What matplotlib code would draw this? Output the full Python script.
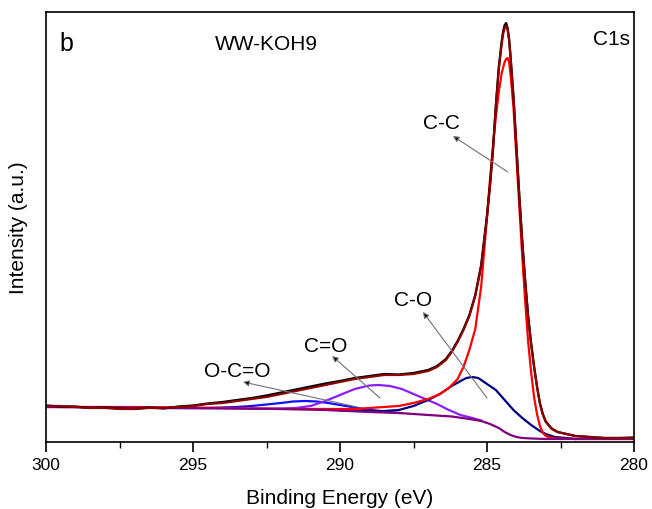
import numpy as np
import matplotlib
matplotlib.use('Agg')
import matplotlib.pyplot as plt
from matplotlib.ticker import MultipleLocator

plt.rcParams['font.family'] = ['Liberation Sans', 'DejaVu Sans']

# DATA (binding energy in eV, intensity in a.u.)
be_env = [300, 299.5, 299, 298.5, 298, 297.5, 297, 296.5, 296, 295.5, 295, 294.5, 294, 293.5, 293,
          292.5, 292, 291.5, 291, 290.5, 290, 289.5, 289, 288.5, 288, 287.5, 287,
          286.7, 286.4, 286.2, 286.0, 285.8, 285.6, 285.4, 285.2, 285.0,
          284.9, 284.8, 284.7, 284.6, 284.5, 284.45, 284.4, 284.35, 284.3, 284.25, 284.2, 284.1, 284.0,
          283.9, 283.8, 283.7, 283.6, 283.5, 283.4, 283.3, 283.2, 283.1, 283.0,
          282.8, 282.6, 282.3, 282.0, 281.5, 281, 280.5, 280]
int_env = [36, 36, 35, 34, 34, 33, 33, 34, 34, 35, 36, 38, 39, 41, 43,
           45, 48, 51, 54, 57, 60, 63, 65, 67, 67, 68, 71,
           75, 82, 90, 100, 112, 126, 146, 175, 225,
           255, 290, 335, 372, 398, 408, 414, 416, 412, 402, 385, 345, 295,
           245, 200, 160, 125, 98, 75, 55, 38, 27, 20,
           13, 10, 8, 6, 5, 4, 4, 4]
int_raw = [36.5, 35.5, 35.5, 34, 34.5, 33.5, 33, 34.5, 33.5, 35.5, 36.5, 38.5, 40, 42, 44,
           46.5, 49.5, 52.5, 55.5, 58.5, 61, 64, 66, 68, 67.5, 69, 72,
           76, 83, 91, 101, 113, 127, 147, 177, 227,
           257, 292, 337, 375, 401, 411, 417, 419, 414, 404, 386, 346, 296,
           246, 201, 161, 126, 99, 76, 56, 39, 28, 20.5,
           13.5, 10, 8, 6, 5, 4, 4, 4.5]

# C-C component
be_cc = [300, 297, 294, 292, 290.5, 289.5, 288.5, 288, 287.5, 287,
         286.6, 286.3, 286.0, 285.8, 285.6, 285.4, 285.2, 285.1, 285.0, 284.9,
         284.8, 284.7, 284.6, 284.5, 284.4, 284.35, 284.3, 284.25, 284.2, 284.1,
         284.0, 283.9, 283.8, 283.7, 283.6, 283.5, 283.4, 283.3, 283.2, 283.1,
         283.0, 282.8, 282.5, 282, 281, 280]
int_cc = [35, 35, 34, 33, 33, 33, 35, 36, 39, 43,
          48, 54, 63, 75, 92, 113, 155, 190, 225, 262,
          295, 325, 350, 369, 380, 383, 384, 380, 368, 335,
          285, 235, 185, 140, 100, 70, 45, 28, 16, 9,
          6, 4, 3.5, 3, 3, 3]

# C-O component
be_co = [290, 289, 288.5, 288, 287.5, 287, 286.6, 286.2, 285.9, 285.7, 285.5, 285.3,
         285.0, 284.7, 284.4, 284.1, 283.8, 283.5, 283.2, 283.0, 282.7, 282.3, 282]
int_co = [31.5, 31, 31, 32, 36, 42, 48, 56, 61, 64, 65, 64,
          58, 52, 42, 32, 24, 17, 11, 8, 5, 4, 3]

# C=O component
be_cdo = [293, 292, 291.5, 291, 290.5, 290, 289.5, 289, 288.7, 288.3, 287.9, 287.5,
          287.1, 286.7, 286.3, 285.9, 285.5, 285.2]
int_cdo = [33.3, 33.5, 34, 36, 41, 47, 53, 56.5, 57, 56, 53, 48,
           43, 38, 32, 27, 24, 21.5]

# O-C=O component
be_occo = [296, 295, 294.5, 294, 293.5, 293, 292.5, 292, 291.6, 291.2, 290.8, 290.4,
           290, 289.6, 289.2, 288.8, 288.4, 288]
int_occo = [34, 34, 34, 34.5, 35, 36, 37.5, 39, 40.5, 41, 40.5, 39,
            37, 35, 33, 31.5, 30, 29]

# background
be_bg = [300, 298, 296, 294, 292, 290.5, 289, 288, 287, 286.2, 285.6, 285.2, 284.9,
         284.6, 284.4, 284.2, 284.0, 283.8, 283.5, 283, 282, 281, 280]
int_bg = [35, 34.5, 34, 33.5, 33, 32, 30, 29, 27, 25.5, 23, 21, 18,
          14, 10, 7, 5, 4, 3.5, 3, 3, 3, 3]

peak_labels = ['C-C', 'C-O', 'C=O', 'O-C=O']
label_xy = [(286.55, 320), (287.5, 142), (290.48, 96), (293.50, 71)]
arrow_head = [(286.16, 306), (287.18, 130), (290.27, 86), (293.30, 60)]
arrow_tail = [(284.29, 270), (285.0, 44), (288.64, 44), (289.42, 35)]

# PLOT
fig = plt.figure(figsize=(6.52, 5.10), dpi=100)
ax = fig.add_axes([0.0706, 0.1314, 0.9018, 0.8431])
lw = 1.6
ax.plot(be_occo, int_occo, color='#1010FF', lw=lw)
ax.plot(be_cdo, int_cdo, color='#8B1EFF', lw=lw)
ax.plot(be_co, int_co, color='#000080', lw=lw)
ax.plot(be_cc, int_cc, color='#FF0000', lw=lw)
ax.plot(be_bg, int_bg, color='#800080', lw=lw)
ax.plot(be_env, int_raw, color='black', lw=lw)
ax.plot(be_env, int_env, color='#8B0000', lw=lw)

for lab, xy, hd, tl in zip(peak_labels, label_xy, arrow_head, arrow_tail):
    ax.text(xy[0], xy[1], lab, fontsize=15, ha='center', va='center')
    ax.annotate('', xy=hd, xytext=tl,
                arrowprops=dict(arrowstyle='-|>', ec='0.45', fc='black',
                                lw=0.8, mutation_scale=9, shrinkA=0, shrinkB=0))

ax.text(299.32, 399, 'b', fontsize=18, ha='center', va='center')
ax.text(292.52, 399, 'WW-KOH9', fontsize=15, ha='center', va='center')
ax.text(280.78, 404, 'C1s', fontsize=15, ha='center', va='center')

ax.set_xlim(300, 280)
ax.set_ylim(0, 430)
ax.set_yticks([])
ax.xaxis.set_major_locator(MultipleLocator(5))
ax.xaxis.set_minor_locator(MultipleLocator(2.5))
ax.tick_params(axis='x', which='major', direction='out', length=7, width=1.2, labelsize=12.5, pad=4)
ax.tick_params(axis='x', which='minor', direction='out', length=4, width=1.0)
for s in ax.spines.values():
    s.set_linewidth(1.2)
ax.set_xlabel('Binding Energy (eV)', fontsize=15, labelpad=11)
ax.set_ylabel('Intensity (a.u.)', fontsize=15, labelpad=13)

plt.savefig('out.png', dpi=100)
